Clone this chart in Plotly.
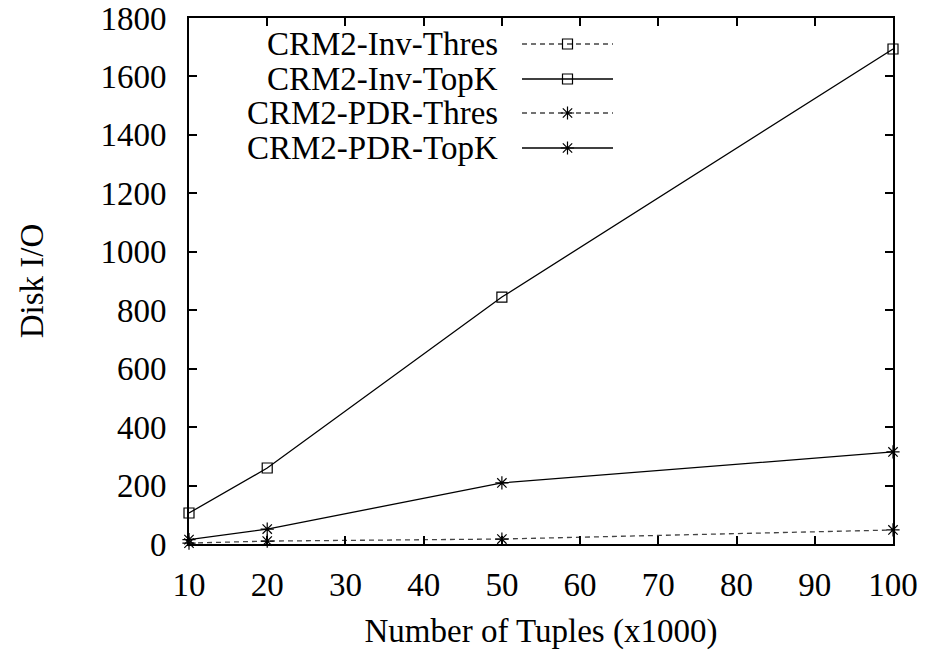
import plotly.graph_objects as go

# ---- data ----
tuples = [10, 20, 50, 100]
inv_thres = [None, None, None, None]
inv_topk = [106, 260, 845, 1694]
pdr_thres = [3, 10, 17, 48]
pdr_topk = [15, 51, 209, 315]

series_names = ["CRM2-Inv-Thres", "CRM2-Inv-TopK", "CRM2-PDR-Thres", "CRM2-PDR-TopK"]
y_ticks = [0, 200, 400, 600, 800, 1000, 1200, 1400, 1600, 1800]
x_ticks = [10, 20, 30, 40, 50, 60, 70, 80, 90, 100]

FONT = "Liberation Serif"
FS = 33
FS_KEY = 33
W, H = 927, 650
L, R, T, B = 189, 34, 18, 106

styles = [
    dict(dash="5px,4px", color="#444444", symbol="square-open"),
    dict(dash="solid", color="black", symbol="square-open"),
    dict(dash="5px,4px", color="#444444", symbol="asterisk-open"),
    dict(dash="solid", color="black", symbol="asterisk-open"),
]
data = [inv_thres, inv_topk, pdr_thres, pdr_topk]

fig = go.Figure()
for name, ys, st in zip(series_names, data, styles):
    fig.add_trace(go.Scatter(
        x=tuples, y=ys, mode="lines+markers", name=name, showlegend=False,
        line=dict(color=st["color"], width=1.3, dash=st["dash"]),
        marker=dict(symbol=st["symbol"], size=10 if "square" in st["symbol"] else 11,
                    color="black", line=dict(color="black", width=1.2)),
        cliponaxis=False,
    ))

# ---- gnuplot-style key: text right-aligned, sample to its right ----
key_text_right = 500
key_line = (522, 613)
key_rows = [44, 79, 113, 148]
for name, st, yk in zip(series_names, styles, key_rows):
    fig.add_trace(go.Scatter(
        x=[key_line[0], (key_line[0] + key_line[1]) / 2, key_line[1]],
        y=[yk, yk, yk], xaxis="x2", yaxis="y2", mode="lines",
        line=dict(color=st["color"], width=1.3, dash=st["dash"]),
        showlegend=False, hoverinfo="skip",
    ))
    fig.add_trace(go.Scatter(
        x=[(key_line[0] + key_line[1]) / 2], y=[yk], xaxis="x2", yaxis="y2",
        mode="markers",
        marker=dict(symbol=st["symbol"], size=10 if "square" in st["symbol"] else 11,
                    color="black", line=dict(color="black", width=1.2)),
        showlegend=False, hoverinfo="skip",
    ))
    fig.add_annotation(x=key_text_right, y=yk, xref="x2", yref="y2",
                       text=name, showarrow=False, xanchor="right", yanchor="middle",
                       font=dict(family=FONT, size=FS_KEY, color="black"))

axis_common = dict(
    showgrid=False, zeroline=False, showline=True, linecolor="black", linewidth=2,
    mirror="ticks", ticks="inside", ticklen=8, tickwidth=1.5, tickcolor="black",
    automargin=False,
    tickfont=dict(family=FONT, size=FS, color="black"),
)

fig.update_layout(
    width=W, height=H,
    margin=dict(l=L, r=R, t=T, b=B, pad=0),
    paper_bgcolor="white", plot_bgcolor="white",
    font=dict(family=FONT, size=FS, color="black"),
    showlegend=False,
    xaxis=dict(range=[10, 100], tickvals=x_ticks, ticklabelstandoff=10,
               title=dict(text="Number of Tuples (x1000)", font=dict(family=FONT, size=FS, color="black"),
                          standoff=20),
               **axis_common),
    yaxis=dict(range=[0, 1800], tickvals=y_ticks, ticklabelstandoff=14,
               title=dict(text="Disk I/O", font=dict(family=FONT, size=FS, color="black"),
                          standoff=47),
               **axis_common),
    xaxis2=dict(overlaying="x", range=[L, W - R], visible=False, fixedrange=True),
    yaxis2=dict(overlaying="y", range=[H - B, T], visible=False, fixedrange=True),
)

fig.write_html("out.html")
